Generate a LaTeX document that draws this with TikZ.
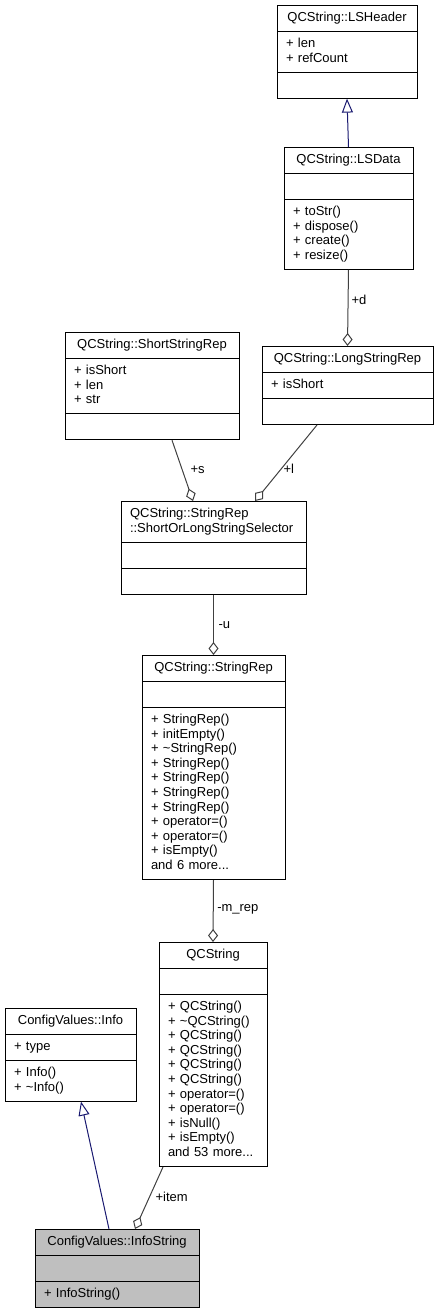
\documentclass[tikz,border=0pt]{standalone}
\usepackage{fontspec}
\setmainfont{Liberation Sans}
\usetikzlibrary{shapes.multipart,arrows.meta}
\definecolor{inhblue}{RGB}{25,25,112}
\definecolor{compgray}{RGB}{64,64,64}
\definecolor{curgray}{RGB}{191,191,191}
\newcommand\umlfont{\fontsize{13}{14.6}\selectfont}
\newcommand\umltitle[1]{\strut\makebox[\linewidth]{#1}}

\begin{document}
\begin{tikzpicture}[
  x=1pt, y=-1pt,
  umlcls/.style = {rectangle split, rectangle split parts=3, draw, fill=white,
    line width=1pt, anchor=north, align=left, inner xsep=9pt, inner ysep=5.2pt,
    text width=#1, font=\umlfont},
  umlinh/.style = {draw=inhblue, line width=1pt,
    -{Triangle[length=14pt, width=11pt, fill=white]}},
  umlcomp/.style = {draw=compgray, line width=1pt,
    {Diamond[length=13pt, width=10pt, fill=white]}-},
  umllbl/.style = {font=\umlfont, inner sep=1pt}
]
  \useasboundingbox (0,0) rectangle (439,1311);
  % classes
  \node[umlcls=122pt] (lsheader) at (347,5)
    {\umltitle{QCString::LSHeader}
     \nodepart{two}\strut + len\\ + refCount\strut
     \nodepart{three}\strut};
  \node[umlcls=111pt] (lsdata) at (348.5,147)
    {\umltitle{QCString::LSData}
     \nodepart{two}\strut
     \nodepart{three}\strut + toStr()\\ + dispose()\\ + create()\\ + resize()\strut};
  \node[umlcls=156pt] (ssr) at (152,332)
    {\umltitle{QCString::ShortStringRep}
     \nodepart{two}\strut + isShort\\ + len\\ + str\strut
     \nodepart{three}\strut};
  \node[umlcls=153pt] (lsr) at (347.5,346)
    {\umltitle{QCString::LongStringRep}
     \nodepart{two}\strut + isShort\strut
     \nodepart{three}\strut};
  \node[umlcls=167pt] (sel) at (213.5,501)
    {\strut QCString::StringRep\\ ::ShortOrLongStringSelector\strut
     \nodepart{two}\strut
     \nodepart{three}\strut};
  \node[umlcls=125pt] (srep) at (213.5,655)
    {\umltitle{QCString::StringRep}
     \nodepart{two}\strut
     \nodepart{three}\strut + StringRep()\\ + initEmpty()\\ + \textasciitilde StringRep()\\
     + StringRep()\\ + StringRep()\\ + StringRep()\\ + StringRep()\\
     + operator=()\\ + operator=()\\ + isEmpty()\\ and 6 more...\strut};
  \node[umlcls=90pt] (qcs) at (213,942)
    {\umltitle{QCString}
     \nodepart{two}\strut
     \nodepart{three}\strut + QCString()\\ + \textasciitilde QCString()\\ + QCString()\\
     + QCString()\\ + QCString()\\ + QCString()\\ + operator=()\\ + operator=()\\
     + isNull()\\ + isEmpty()\\ and 53 more...\strut};
  \node[umlcls=113pt] (info) at (70.5,1008)
    {\umltitle{ConfigValues::Info}
     \nodepart{two}\strut + type\strut
     \nodepart{three}\strut + Info()\\ + \textasciitilde Info()\strut};
  \node[umlcls=146pt, fill=curgray] (infostr) at (117,1229)
    {\umltitle{ConfigValues::InfoString}
     \nodepart{two}\strut
     \nodepart{three}\strut + InfoString()\strut};
  % inheritance
  \draw[umlinh] (lsdata.north) -- (lsheader.south);
  \draw[umlinh] ([xshift=-8pt]infostr.north) -- ([xshift=10.5pt]info.south);
  % members
  \draw[umlcomp] (lsr.north) -- node[umllbl, pos=0.6, right=2pt] {+d} (lsdata.south);
  \draw[umlcomp] ([xshift=-20.5pt]sel.north) -- node[umllbl, pos=0.52, right=7pt] {+s} ([xshift=20pt]ssr.south);
  \draw[umlcomp] ([xshift=41.5pt]sel.north) -- node[umllbl, pos=0.42, right=1pt] {+l} ([xshift=-30.5pt]lsr.south);
  \draw[umlcomp] (srep.north) -- node[umllbl, right=3.5pt] {-u} (sel.south);
  \draw[umlcomp] (qcs.north) -- node[umllbl, pos=0.52, right=2.5pt] {-m\_rep} (srep.south);
  \draw[umlcomp] ([xshift=18pt]infostr.north) -- node[umllbl, pos=0.52, right=4.5pt] {+item} ([xshift=-50pt]qcs.south);
\end{tikzpicture}
\end{document}
